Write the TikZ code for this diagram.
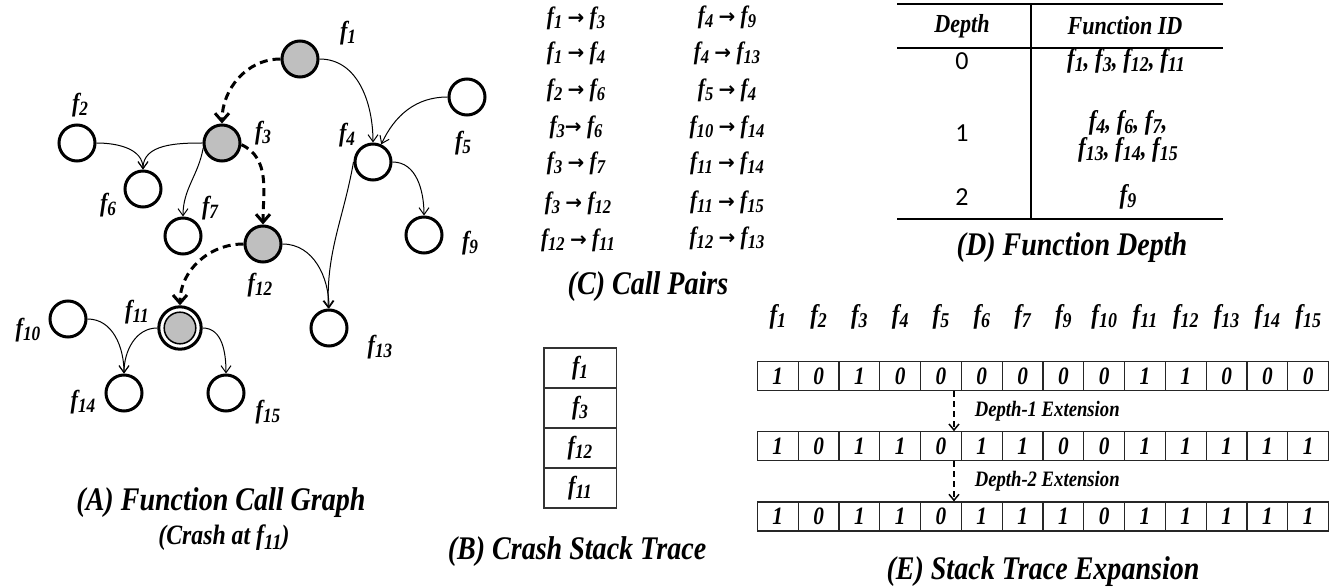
\documentclass[tikz,border=0pt]{standalone}
\usepackage{fontspec}
\setmainfont{Liberation Serif}[FakeStretch=0.85]
\newfontfamily\calibri{Carlito}
\newfontfamily\arrowfont{DejaVu Sans}
\usetikzlibrary{
  arrows.meta,     % open chevron tips
  positioning,     % stack cells below each other
  matrix           % bit vectors of the expansion
}
\newcommand{\fn}[1]{\textit{f}\raisebox{-0.35ex}{\scalebox{0.78}{#1}}}
\newcommand{\callto}{{\arrowfont\bfseries\upshape\scalebox{0.8}{→}}}
\tikzset{
    every node/.style = {
        font=\bfseries\itshape\fontsize{12.5}{14}\selectfont,
        inner sep=1pt
    },
    fnode/.style = {circle, draw, line width=1.5pt, minimum size=18pt, inner sep=0pt, fill=white},
    visited/.style = {fnode, fill=gray!50},
    crash/.style = {fnode, minimum size=21.2pt,
        path picture={\draw[fill=gray!50, line width=0.75pt]
            (path picture bounding box.center) circle[radius=7.9pt];}},
    flabel/.style = {font=\bfseries\itshape\fontsize{13}{14}\selectfont},
    call/.style = {-{Straight Barb[length=3.5pt,width=5pt]}, line width=0.5pt},
    crashcall/.style = {-{Straight Barb[length=4pt,width=7pt]}, line width=1.5pt,
        dash pattern=on 4pt off 2.5pt},
    pair/.style = {font=\bfseries\itshape\fontsize{12.5}{14}\selectfont},
    caption/.style = {font=\bfseries\itshape\fontsize{16.5}{19}\selectfont},
    subcaption/.style = {font=\bfseries\itshape\fontsize{14}{16}\selectfont},
    stackcell/.style = {draw=black!80, line width=0.75pt, minimum width=36.25pt,
        minimum height=20pt, inner sep=0pt, font=\bfseries\itshape\fontsize{13}{14}\selectfont},
    rule/.style = {line width=1pt},
    thinrule/.style = {line width=0.75pt},
    depth/.style = {font=\calibri\fontsize{13}{15}\selectfont},
    thead/.style = {font=\bfseries\itshape\fontsize{13}{15}\selectfont},
    tcell/.style = {font=\bfseries\itshape\fontsize{13.5}{13.5}\selectfont, align=center},
    bit/.style = {draw=black!85, line width=0.6pt, minimum width=20.4pt,
        minimum height=14.5pt, inner sep=0pt,
        font=\bfseries\itshape\fontsize{12.5}{13}\selectfont},
    bits/.style = {matrix of nodes, row sep=20pt, column sep=-0.6pt, inner sep=0pt,
        nodes={bit}, row 1/.style={nodes={draw=none, font=\bfseries\itshape\fontsize{13.5}{14}\selectfont}}},
    extend/.style = {-{Straight Barb[length=3pt,width=5pt]}, line width=0.75pt,
        dash pattern=on 3pt off 2pt},
    extlabel/.style = {font=\bfseries\itshape\fontsize{11}{12}\selectfont}
}

\begin{document}
\begin{tikzpicture}[x=0.5pt, y=-0.5pt]
  \useasboundingbox (0,0) rectangle (1335,588);

  %% (A) Function call graph
  \node [visited] (f1) at (300,59) {};
  \node [fnode] (f2) at (77,143) {};
  \node [visited] (f3) at (222,143) {};
  \node [fnode] (f4) at (373,162) {};
  \node [fnode] (f5) at (467,97) {};
  \node [fnode] (f6) at (143,189) {};
  \node [fnode] (f7) at (183,236) {};
  \node [fnode] (f9) at (424,235) {};
  \node [visited] (f12) at (263,244) {};
  \node [fnode] (f10) at (68,319) {};
  \node [crash] (f11) at (180,328) {};
  \node [fnode] (f13) at (329,328) {};
  \node [fnode] (f14) at (124,393) {};
  \node [fnode] (f15) at (226,393) {};

  \node [flabel] (lf1) at (348,33) {\fn{1}};
  \node [flabel] (lf2) at (80,105) {\fn{2}};
  \node [flabel] (lf3) at (263,133) {\fn{3}};
  \node [flabel] (lf4) at (347,135) {\fn{4}};
  \node [flabel] (lf5) at (463,143) {\fn{5}};
  \node [flabel] (lf6) at (108,205) {\fn{6}};
  \node [flabel] (lf7) at (210,208) {\fn{7}};
  \node [flabel] (lf9) at (470,243) {\fn{9}};
  \node [flabel] (lf12) at (260,285) {\fn{12}};
  \node [flabel] (lf11) at (137,312) {\fn{11}};
  \node [flabel] (lf10) at (28,330) {\fn{10}};
  \node [flabel] (lf13) at (380,347) {\fn{13}};
  \node [flabel] (lf14) at (83,402) {\fn{14}};
  \node [flabel] (lf15) at (268,412) {\fn{15}};

  \draw [call] (f1) to[out=0, in=90] (f4);
  \draw [call] (f5) to[out=180, in=65] (f4);
  \draw [call] (f2) to[out=0, in=90] (f6);
  \draw [call] (f3) to[out=180, in=90] (f6);
  \draw [call] (f3.195) to[out=-100, in=90] (f7);
  \draw [call] (f4) to[out=0, in=90] (f9);
  \draw [call] (f4.west) to[out=-100, in=92] (f13);
  \draw [call] (f12) to[out=0, in=90] (f13);
  \draw [call] (f10) to[out=0, in=90] (f14);
  \draw [call] (f11) to[out=180, in=90] (f14);
  \draw [call] (f11) to[out=0, in=90] (f15);

  % crash path
  \draw [crashcall] (f1) to[out=180, in=90] (f3);
  \draw [crashcall] (f3.-5) to[out=-25, in=90] (f12);
  \draw [crashcall] (f12) to[out=180, in=90] (f11);

  \node [caption] (capA) at (221,503) {(A) Function Call Graph};
  \node [subcaption] (subA) at (224,538) {(Crash at \fn{11})};

  %% (B) Crash stack trace
  \node [stackcell] (s1) at (580,368) {\fn{1}};
  \node [stackcell, below=-0.75pt of s1] (s3) {\fn{3}};
  \node [stackcell, below=-0.75pt of s3] (s12) {\fn{12}};
  \node [stackcell, below=-0.75pt of s12] (s11) {\fn{11}};
  \node [caption] (capB) at (577,552) {(B) Crash Stack Trace};

  %% (C) Call pairs
  \node [pair] (p1) at (576,18) {\fn{1}\ \callto\ \fn{3}};
  \node [pair] (p2) at (576,53) {\fn{1}\ \callto\ \fn{4}};
  \node [pair] (p3) at (576,90) {\fn{2}\ \callto\ \fn{6}};
  \node [pair] (p4) at (576,127) {\fn{3}\callto\ \fn{6}};
  \node [pair] (p5) at (576,163) {\fn{3}\ \callto\ \fn{7}};
  \node [pair] (p6) at (578,203) {\fn{3}\ \callto\ \fn{12}};
  \node [pair] (p7) at (578,240) {\fn{12}\ \callto\ \fn{11}};
  \node [pair] (p8) at (727,17) {\fn{4}\ \callto\ \fn{9}};
  \node [pair] (p9) at (727,53) {\fn{4}\ \callto\ \fn{13}};
  \node [pair] (p10) at (727,90) {\fn{5}\ \callto\ \fn{4}};
  \node [pair] (p11) at (727,127) {\fn{10}\ \callto\ \fn{14}};
  \node [pair] (p12) at (727,163) {\fn{11}\ \callto\ \fn{14}};
  \node [pair] (p13) at (727,202) {\fn{11}\ \callto\ \fn{15}};
  \node [pair] (p14) at (727,238) {\fn{12}\ \callto\ \fn{13}};
  \node [caption] (capC) at (648,287) {(C) Call Pairs};

  %% (D) Function depth
  \draw [rule] (897,4) -- (1223,4);
  \draw [thinrule] (897,48) -- (1223,48);
  \draw [rule] (897,219) -- (1223,219);
  \draw [thinrule] (1031,4) -- (1031,219);
  \node [thead] (hdepth) at (962,26) {Depth};
  \node [thead] (hfid) at (1125,26) {Function ID};
  \node [depth] (d0) at (962,61) {0};
  \node [tcell] (r0) at (1126,61) {\fn{1}, \fn{3}, \fn{12}, \fn{11}};
  \node [depth] (d1) at (962,133) {1};
  \node [tcell] (r1) at (1128,136) {\fn{4}, \fn{6}, \fn{7},\\ \fn{13}, \fn{14}, \fn{15}};
  \node [depth] (d2) at (962,197) {2};
  \node [tcell] (r2) at (1128,197) {\fn{9}};
  \node [caption] (capD) at (1072,248) {(D) Function Depth};

  %% (E) Stack trace expansion
  \matrix [bits] (E) at (1043,417) {
    \fn{1} & \fn{2} & \fn{3} & \fn{4} & \fn{5} & \fn{6} & \fn{7} & \fn{9} & \fn{10} & \fn{11} & \fn{12} & \fn{13} & \fn{14} & \fn{15} \\[-5.25pt]
    1 & 0 & 1 & 0 & 0 & 0 & 0 & 0 & 0 & 1 & 1 & 0 & 0 & 0 \\
    1 & 0 & 1 & 1 & 0 & 1 & 1 & 0 & 0 & 1 & 1 & 1 & 1 & 1 \\
    1 & 0 & 1 & 1 & 0 & 1 & 1 & 1 & 0 & 1 & 1 & 1 & 1 & 1 \\
  };
  \draw [extend] ([xshift=-4pt]E-2-5.south east) -- ([xshift=-4pt]E-3-5.north east)
    node [midway, right=9pt, extlabel] (ext1) {Depth-1 Extension};
  \draw [extend] ([xshift=-4pt]E-3-5.south east) -- ([xshift=-4pt]E-4-5.north east)
    node [midway, right=9pt, extlabel] (ext2) {Depth-2 Extension};
  \node [caption] (capE) at (1043,572) {(E) Stack Trace Expansion};

\end{tikzpicture}
\end{document}
